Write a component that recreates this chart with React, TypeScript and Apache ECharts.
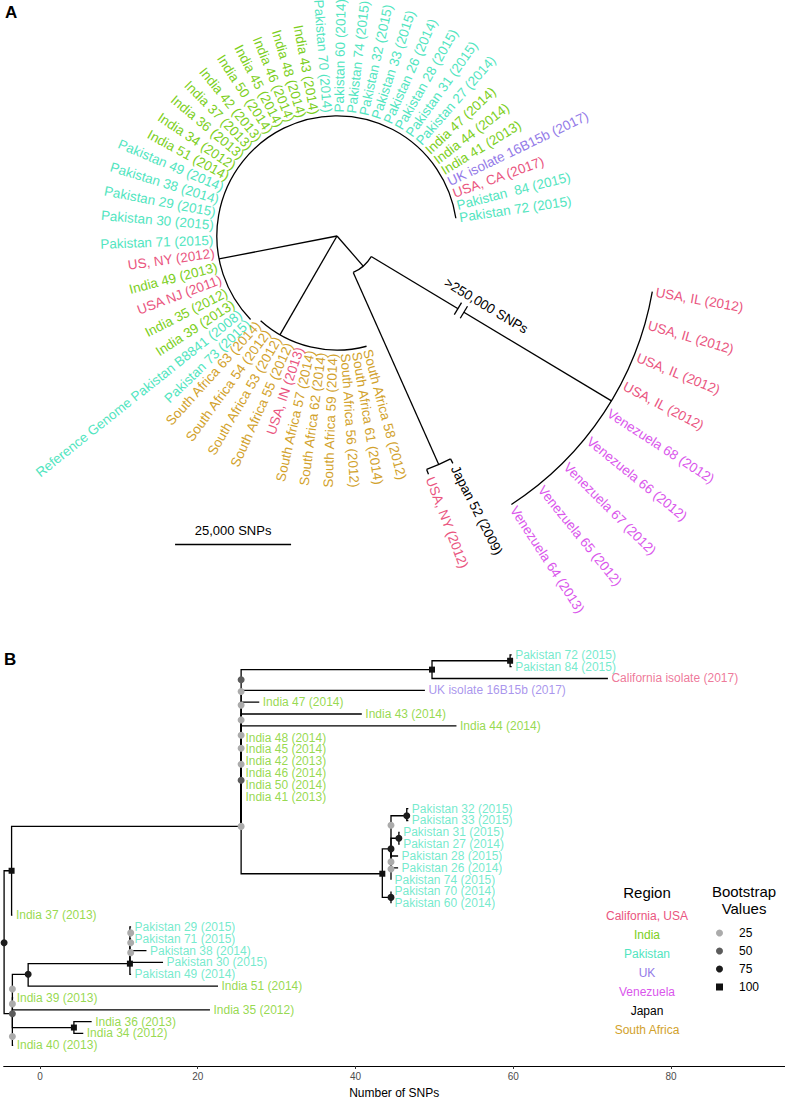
import React, { useEffect, useRef } from 'react';
import * as echarts from 'echarts';

const FONT = "'Liberation Sans', Arial, Helvetica, sans-serif";

// ---------------- Regions ----------------
const regionNames = ['California, USA', 'India', 'Pakistan', 'UK', 'Venezuela', 'Japan', 'South Africa'];
const regionColors = ['#EA5580', '#7CCF22', '#52E5C0', '#937AE8', '#DA56EC', '#000000', '#D2A22C'];

// ---------------- Panel A: circular tree ----------------
// radius in thousands of SNPs (display scale), angle in degrees clockwise from east
const aNodeIds = ['root', 'L', 'SA', 'M', 'JN', 'IV'];
const aNodeParents = ['', 'root', 'root', 'root', 'M', 'M'];
const aNodeRadii = [0, 25.9, 24.6, 8.6, 53.9, 69.0];
const aNodeAngles = [0, 169, 120, 49, 66, 31];

const aTipLabels = [
  'USA, IL (2012)', 'USA, IL (2012)', 'USA, IL (2012)', 'USA, IL (2012)',
  'Venezuela 68 (2012)', 'Venezuela 66 (2012)', 'Venezuela 67 (2012)', 'Venezuela 65 (2012)', 'Venezuela 64 (2013)',
  'Japan 52 (2009)', 'USA, NY (2012)',
  'South Africa 58 (2012)', 'South Africa 61 (2014)', 'South Africa 56 (2012)', 'South Africa 59 (2014)',
  'South Africa 62 (2014)', 'South Africa 57 (2014)', 'USA, IN (2013)', 'South Africa 55 (2012)',
  'South Africa 53 (2012)', 'South Africa 54 (2012)', 'South Africa 63 (2014)',
  'Pakistan 73 (2015)', 'Reference Genome Pakistan B8841 (2008)', 'India 39 (2013)', 'India 35 (2012)',
  'USA NJ (2011)', 'India 49 (2013)', 'US, NY (2012)', 'Pakistan 71 (2015)', 'Pakistan 30 (2015)',
  'Pakistan 29 (2015)', 'Pakistan 38 (2014)', 'Pakistan 49 (2014)', 'India 51 (2014)', 'India 34 (2012)',
  'India 36 (2013)', 'India 37 (2013)', 'India 42 (2013)', 'India 50 (2014)', 'India 45 (2014)',
  'India 46 (2014)', 'India 48 (2014)', 'India 43 (2014)', 'Pakistan 70 (2014)', 'Pakistan 60 (2014)',
  'Pakistan 74 (2015)', 'Pakistan 32 (2015)', 'Pakistan 33 (2015)', 'Pakistan 26 (2014)', 'Pakistan 28 (2015)',
  'Pakistan 31 (2015)', 'Pakistan 27 (2014)', 'India 47 (2014)', 'India 44 (2014)', 'India 41 (2013)',
  'UK isolate 16B15b (2017)', 'USA, CA (2017)', 'Pakistan  84 (2015)', 'Pakistan 72 (2015)',
];
const aTipRegions = [
  0, 0, 0, 0, 4, 4, 4, 4, 4,
  5, 0,
  6, 6, 6, 6, 6, 6, 0, 6, 6, 6, 6,
  2, 2, 1, 1, 0, 1, 0, 2, 2, 2, 2, 2, 1, 1, 1, 1, 1, 1, 1, 1, 1, 1, 2, 2, 2, 2, 2, 2, 2, 2, 2, 1, 1, 1, 3, 0, 2, 2,
];
const aTipParents = [
  'IV', 'IV', 'IV', 'IV', 'IV', 'IV', 'IV', 'IV', 'IV',
  'JN', 'JN',
  'SA', 'SA', 'SA', 'SA', 'SA', 'SA', 'SA', 'SA', 'SA', 'SA', 'SA',
  'L', 'L', 'L', 'L', 'L', 'L', 'L', 'L', 'L', 'L', 'L', 'L', 'L', 'L', 'L', 'L', 'L', 'L', 'L',
  'L', 'L', 'L', 'L', 'L', 'L', 'L', 'L', 'L', 'L', 'L', 'L', 'L', 'L', 'L', 'L', 'L', 'L', 'L',
];
const aTipRadii = [
  69.0, 69.0, 69.0, 69.0, 69.0, 69.0, 69.0, 69.0, 69.0,
  55.0, 55.0,
  24.6, 24.6, 24.6, 24.6, 24.6, 24.6, 24.6, 24.6, 24.6, 24.6, 24.6,
  25.9, 25.9, 25.9, 25.9, 25.9, 25.9, 25.9, 25.9, 25.9, 25.9, 25.9, 25.9, 25.9, 25.9, 25.9, 25.9, 25.9, 25.9, 25.9,
  25.9, 25.9, 25.9, 25.9, 25.9, 25.9, 25.9, 25.9, 25.9, 25.9, 25.9, 25.9, 25.9, 25.9, 25.9, 25.9, 25.9, 25.9, 25.9,
];
const aTipAngles = [
  10, 16, 22, 27.5, 33, 39, 45, 51, 57,
  63, 69,
  75, 80.5, 86, 92, 97.5, 103, 108.5, 114, 120, 126, 132,
  136, 141.5, 147, 153, 159.5, 165.5, 172, 178, 185, 191, 197, 203, 208.5, 214, 220, 225.5, 231, 237, 242.5,
  248, 253.5, 259.5, 265.5, 271, 276.75, 282.5, 288.25, 294, 299.75, 305.5, 311.25, 317, 322.75, 328.5, 334.25,
  340, 345.75, 351.5,
];

const aBreakNode = 'IV';
const aBreakRadii = [30.4, 31.9];
const aBreakLabel = '>250,000 SNPs';
const aBreakLabelRadius = 35.3;

const scaleBarStart = -34.9;
const scaleBarY = -66.4;
const scaleBarLength = 25;
const scaleBarLabel = '25,000 SNPs';

// ---------------- Panel B: rectangular tree ----------------
const bNodeIds = ['R', 'A', 'B', 'N1', 'C', 'D', 'E', 'F', 'G', 'P', 'Q', 'R2', 'S', 'T'];
const bNodeParents = ['', 'R', 'R', 'A', 'B', 'C', 'B', 'N1', 'F', 'N1', 'P', 'P', 'Q', 'Q'];
const bNodeX = [-4.55, -3.6, -3.5, 25.5, -1.5, 11.4, 4.3, 49.7, 59.6, 43.4, 44.5, 44.5, 46.5, 45.5];
const bNodeRow = [24.33, 18.25, 30.33, 14.5, 27, 26.1, 31.5, 1.25, 0.5, 18.5, 16.4, 20.5, 13.6, 15.5];

const bTipLabels = [
  'Pakistan 72 (2015)', 'Pakistan 84 (2015)', 'California isolate (2017)', 'UK isolate 16B15b (2017)',
  'India 47 (2014)', 'India 43 (2014)', 'India 44 (2014)', 'India 48 (2014)', 'India 45 (2014)',
  'India 42 (2013)', 'India 46 (2014)', 'India 50 (2014)', 'India 41 (2013)', 'Pakistan 32 (2015)',
  'Pakistan 33 (2015)', 'Pakistan 31 (2015)', 'Pakistan 27 (2014)', 'Pakistan 28 (2015)', 'Pakistan 26 (2014)',
  'Pakistan 74 (2015)', 'Pakistan 70 (2014)', 'Pakistan 60 (2014)', 'India 37 (2013)', 'Pakistan 29 (2015)',
  'Pakistan 71 (2015)', 'Pakistan 38 (2014)', 'Pakistan 30 (2015)', 'Pakistan 49 (2014)', 'India 51 (2014)',
  'India 39 (2013)', 'India 35 (2012)', 'India 36 (2013)', 'India 34 (2012)', 'India 40 (2013)',
];
const bTipRegions = [2, 2, 0, 3, 1, 1, 1, 1, 1, 1, 1, 1, 1, 2, 2, 2, 2, 2, 2, 2, 2, 2, 1, 2, 2, 2, 2, 2, 1, 1, 1, 1, 1, 1];
const bTipParents = [
  'G', 'G', 'F', 'N1', 'N1', 'N1', 'N1', 'N1', 'N1', 'N1', 'N1', 'N1', 'N1', 'S', 'S', 'T', 'T', 'Q', 'Q',
  'Q', 'R2', 'R2', 'A', 'D', 'D', 'D', 'D', 'D', 'C', 'B', 'B', 'E', 'E', 'B',
];
const bTipX = [
  59.8, 59.8, 72.0, 48.8, 27.8, 40.8, 52.8, 25.6, 25.6, 25.6, 25.6, 25.6, 25.6, 46.7, 46.7, 45.6, 45.6,
  45.4, 45.4, 44.5, 44.5, 44.5, -3.5, 11.55, 11.55, 13.5, 15.6, 11.55, 22.57, -3.4, 21.55, 6.55, 5.49, -3.4,
];
const bTipRow = [0, 1, 2, 3, 4, 5, 6, 7, 8, 9, 10, 11, 12, 13, 14, 15, 16, 17, 18, 19, 20, 21, 22, 23, 24, 25, 26, 27, 28, 29, 30, 31, 32, 33];

const bBootX = [
  -4.55, -3.6, -3.5, -3.5, -3.5, -3.5, -1.5, 11.4, 11.5, 11.5, 11.5, 4.3,
  25.5, 25.5, 25.5, 25.5, 25.5, 25.5, 25.5, 25.5, 25.5,
  49.7, 59.6, 43.4, 44.5, 44.5, 44.5, 46.5, 45.5, 44.5, 44.5,
];
const bBootRow = [
  24.33, 18.25, 30.33, 28.25, 29.5, 32.25, 27, 26.1, 23.5, 24.33, 25.17, 31.5,
  2.1, 3.1, 4.25, 5.5, 6.8, 7.9, 9.25, 10.6, 14.5,
  1.25, 0.5, 18.5, 14.4, 16.4, 20.5, 13.6, 15.5, 17.5, 18.1,
];
const bBootValue = [
  75, 100, 50, 25, 25, 25, 75, 100, 25, 25, 25, 100,
  50, 25, 25, 25, 25, 25, 25, 50, 25,
  100, 100, 100, 25, 75, 75, 75, 75, 25, 25,
];
const bootLevels = [25, 50, 75, 100];
const bootColors = ['#ABABAB', '#5C5C5C', '#1C1C1C', '#111111'];
const bootSymbols = ['circle', 'circle', 'circle', 'rect'];
const bootSizes = [7, 7, 7, 6];

const bTicks = [0, 20, 40, 60, 80];

function buildOption() {
  const D = Math.PI / 180;

  // ---- Panel A nodes ----
  const aNodes: any[] = [];
  aNodeIds.forEach((id, i) =>
    aNodes.push({ id, parent: aNodeParents[i], r: aNodeRadii[i], ang: aNodeAngles[i] })
  );
  aTipLabels.forEach((lab, i) =>
    aNodes.push({
      id: 'tip' + i,
      parent: aTipParents[i],
      r: aTipRadii[i],
      ang: aTipAngles[i],
      label: lab,
      color: regionColors[aTipRegions[i]],
    })
  );
  const byId: any = {};
  aNodes.forEach((n) => (byId[n.id] = n));
  const childAngles: any = {};
  aNodes.forEach((n) => {
    if (n.parent) {
      (childAngles[n.parent] = childAngles[n.parent] || []).push(n.ang);
    }
  });
  const aData = aNodes.map((n) => [n.r * Math.cos(n.ang * D), -n.r * Math.sin(n.ang * D)]);

  const renderA = (params: any, api: any) => {
    const n = aNodes[params.dataIndex];
    const c = api.coord([0, 0]);
    const k = api.size([1, 0])[0];
    const P = (r: number, a: number, extra = 0) => [
      c[0] + (r * k + extra) * Math.cos(a * D),
      c[1] + (r * k + extra) * Math.sin(a * D),
    ];
    const ls = { stroke: '#000', lineWidth: 1.3 };
    const children: any[] = [];
    if (n.parent) {
      const p = byId[n.parent];
      if (Math.abs(n.r - p.r) > 1e-6) {
        const a = P(p.r, n.ang);
        const b = P(n.r, n.ang);
        children.push({ type: 'line', shape: { x1: a[0], y1: a[1], x2: b[0], y2: b[1] }, style: ls });
      }
    }
    const ch = childAngles[n.id];
    if (ch && n.r > 0) {
      const lo = Math.min(...ch);
      const hi = Math.max(...ch);
      children.push({
        type: 'arc',
        shape: { cx: c[0], cy: c[1], r: n.r * k, startAngle: lo * D, endAngle: hi * D, clockwise: true },
        style: { stroke: '#000', lineWidth: 1.3, fill: 'none' },
      });
    }
    if (n.label) {
      const left = n.ang > 90 && n.ang < 270;
      const pos = P(n.r, n.ang, 3.5);
      children.push({
        type: 'text',
        x: pos[0],
        y: pos[1],
        rotation: left ? -(n.ang - 180) * D : -n.ang * D,
        style: {
          text: n.label,
          fill: n.color,
          fontSize: 13.5,
          lineHeight: 12,
          fontFamily: FONT,
          align: left ? 'right' : 'left',
          verticalAlign: 'middle',
        },
      });
    }
    if (n.id === aBreakNode) {
      const nx = Math.sin(n.ang * D);
      const ny = -Math.cos(n.ang * D);
      const g0 = P(aBreakRadii[0], n.ang);
      const g1 = P(aBreakRadii[1], n.ang);
      children.push({
        type: 'line',
        shape: { x1: g0[0], y1: g0[1], x2: g1[0], y2: g1[1] },
        style: { stroke: '#fff', lineWidth: 3 },
      });
      aBreakRadii.forEach((br) => {
        const q = P(br, n.ang);
        children.push({
          type: 'line',
          shape: { x1: q[0] + 7 * nx, y1: q[1] + 7 * ny, x2: q[0] - 7 * nx, y2: q[1] - 7 * ny },
          style: ls,
        });
      });
      const t = P(aBreakLabelRadius, n.ang);
      children.push({
        type: 'text',
        x: t[0] + 10 * nx,
        y: t[1] + 10 * ny,
        rotation: -n.ang * D,
        style: {
          text: aBreakLabel,
          fill: '#000',
          fontSize: 13.5,
          fontFamily: FONT,
          align: 'center',
          verticalAlign: 'bottom',
        },
      });
    }
    return { type: 'group', children };
  };

  // ---- Panel B edges ----
  const bPos: any = {};
  bNodeIds.forEach((id, i) => (bPos[id] = [bNodeX[i], bNodeRow[i]]));
  const bEdges: any[] = [];
  bNodeIds.forEach((id, i) => {
    const par = bNodeParents[i];
    if (!par) return;
    const p = bPos[par];
    bEdges.push({ coords: [[p[0], p[1]], [p[0], bNodeRow[i]], [bNodeX[i], bNodeRow[i]]] });
  });
  bTipLabels.forEach((_, i) => {
    const p = bPos[bTipParents[i]];
    bEdges.push({ coords: [[p[0], p[1]], [p[0], bTipRow[i]], [bTipX[i], bTipRow[i]]] });
  });

  const bootSeries = bootLevels.map((lv, li) => ({
    type: 'scatter',
    name: String(lv),
    xAxisIndex: 1,
    yAxisIndex: 1,
    symbol: bootSymbols[li],
    symbolSize: bootSizes[li],
    itemStyle: { color: bootColors[li], opacity: 1 },
    silent: true,
    z: 5,
    data: bBootValue
      .map((v, i) => (v === lv ? [bBootX[i], bBootRow[i]] : null))
      .filter((d) => d !== null),
  }));

  return {
    animation: false,
    backgroundColor: '#ffffff',
    textStyle: { fontFamily: FONT },
    grid: [
      { left: 0, top: 0, width: 787, height: 620 },
      { left: 3.7, right: 2.4, top: 643, bottom: 28 },
    ],
    xAxis: [
      { type: 'value', gridIndex: 0, min: -72.63, max: 96.98, show: false },
      {
        type: 'value',
        gridIndex: 1,
        min: -4.6,
        max: 94.4,
        axisLine: { show: true, onZero: false, lineStyle: { color: '#000', width: 1 } },
        axisTick: { show: true, length: 3, customValues: bTicks, lineStyle: { color: '#333' } },
        splitLine: { show: false },
        axisLabel: {
          fontSize: 10,
          color: '#4D4D4D',
          margin: 5,
          customValues: bTicks,
          formatter: (v: number) => (bTicks.indexOf(v) >= 0 ? String(v) : ''),
        },
        name: 'Number of SNPs',
        nameLocation: 'middle',
        nameGap: 21,
        nameTextStyle: { fontSize: 12, color: '#000' },
      },
    ],
    yAxis: [
      { type: 'value', gridIndex: 0, min: -82.76, max: 50.86, show: false },
      { type: 'value', gridIndex: 1, min: -1, max: 34.75, inverse: true, show: false },
    ],
    legend: {
      data: bootLevels.map(String),
      orient: 'vertical',
      left: 716,
      top: 927,
      padding: 0,
      itemWidth: 7,
      itemHeight: 7,
      itemGap: 6,
      selectedMode: false,
      textStyle: { fontSize: 12, color: '#000', padding: [0, 0, 0, 11] },
    },
    graphic: [
      { type: 'text', x: 5, y: 12, style: { text: 'A', fontSize: 17, fontWeight: 'bold', fontFamily: FONT, fill: '#000', verticalAlign: 'middle' } },
      { type: 'text', x: 4, y: 659.5, style: { text: 'B', fontSize: 17, fontWeight: 'bold', fontFamily: FONT, fill: '#000', verticalAlign: 'middle' } },
      { type: 'text', x: 647, y: 892, style: { text: 'Region', fontSize: 15, fontFamily: FONT, fill: '#000', align: 'center', verticalAlign: 'middle' } },
      ...regionNames.map((nm, i) => ({
        type: 'text',
        x: 647,
        y: 916 + 19 * i,
        style: { text: nm, fontSize: 12, fontFamily: FONT, fill: regionColors[i], align: 'center', verticalAlign: 'middle' },
      })),
      { type: 'text', x: 744, y: 900, style: { text: 'Bootstrap\nValues', fontSize: 15, lineHeight: 17, fontFamily: FONT, fill: '#000', align: 'center', verticalAlign: 'middle' } },
    ],
    series: [
      {
        type: 'custom',
        xAxisIndex: 0,
        yAxisIndex: 0,
        silent: true,
        encode: { x: 0, y: 1 },
        data: aData,
        renderItem: renderA,
      },
      {
        type: 'lines',
        coordinateSystem: 'cartesian2d',
        xAxisIndex: 0,
        yAxisIndex: 0,
        silent: true,
        lineStyle: { color: '#000', width: 1.3, opacity: 1 },
        label: { show: true, position: 'middle', formatter: scaleBarLabel, fontSize: 13, color: '#000', fontFamily: FONT, distance: 7 },
        data: [{ coords: [[scaleBarStart, scaleBarY], [scaleBarStart + scaleBarLength, scaleBarY]] }],
      },
      {
        type: 'lines',
        coordinateSystem: 'cartesian2d',
        xAxisIndex: 1,
        yAxisIndex: 1,
        polyline: true,
        silent: true,
        lineStyle: { color: '#000', width: 1.3, opacity: 1 },
        data: bEdges,
      },
      {
        type: 'scatter',
        name: 'tips',
        xAxisIndex: 1,
        yAxisIndex: 1,
        symbolSize: 1,
        silent: true,
        itemStyle: { color: 'rgba(0,0,0,0)' },
        label: { show: true, position: 'right', distance: 3, formatter: '{b}', fontSize: 12, lineHeight: 11, fontFamily: FONT },
        data: bTipLabels.map((lab, i) => ({
          name: lab,
          value: [bTipX[i], bTipRow[i]],
          label: { color: regionColors[bTipRegions[i]] },
        })),
      },
      ...bootSeries,
    ],
  };
}

export default function App() {
  const ref = useRef<HTMLDivElement>(null);
  useEffect(() => {
    if (!ref.current) return;
    const chart = echarts.init(ref.current, null, { renderer: 'svg' });
    chart.setOption(buildOption() as any);
    return () => chart.dispose();
  }, []);
  return (
    <div
      ref={ref}
      style={{ position: 'absolute', left: 0, top: 0, width: 787, height: 1100, background: '#fff' }}
    />
  );
}
